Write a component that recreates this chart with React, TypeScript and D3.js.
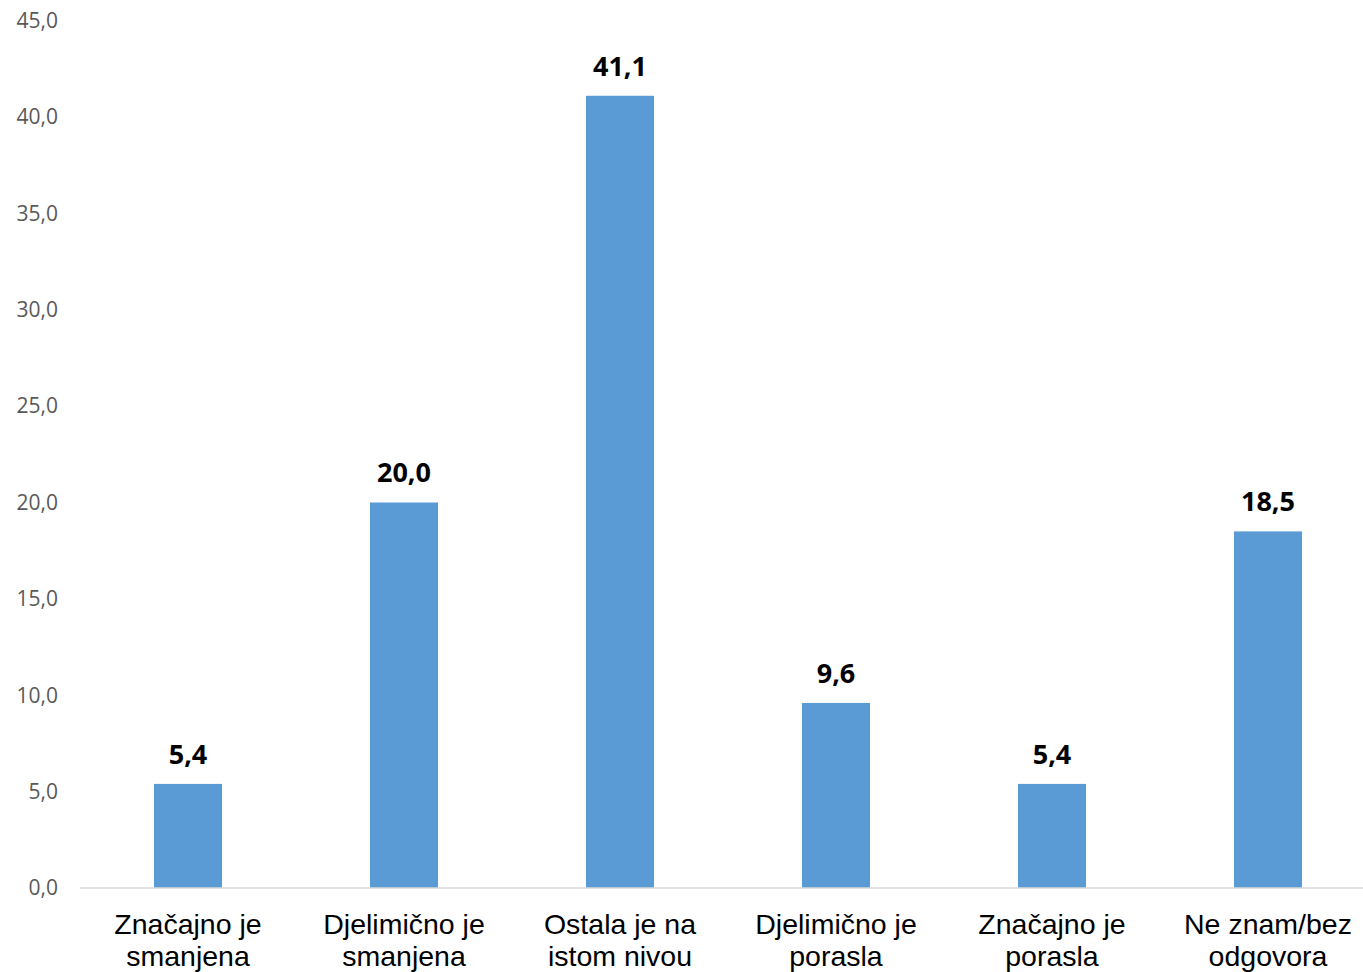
import React from "react";
import * as d3 from "d3";

const categories: string[][] = [
  ["Značajno je", "smanjena"],
  ["Djelimično je", "smanjena"],
  ["Ostala je na", "istom nivou"],
  ["Djelimično je", "porasla"],
  ["Značajno je", "porasla"],
  ["Ne znam/bez", "odgovora"],
];
const values: number[] = [5.4, 20.0, 41.1, 9.6, 5.4, 18.5];
const yTicks: number[] = [0, 5, 10, 15, 20, 25, 30, 35, 40, 45];

const fmt = (v: number) => v.toFixed(1).replace(".", ",");

export default function App() {
  const W = 1363;
  const H = 972;
  const left = 80;
  const right = 1376;
  const top = 20.6;
  const bottom = 888;
  const x = d3
    .scaleBand<number>()
    .domain(values.map((_, i) => i))
    .range([left, right])
    .paddingInner(0.685)
    .paddingOuter(0.3425);
  const y = d3.scaleLinear().domain([0, 45]).range([bottom, top]);

  return (
    <svg
      width={W}
      height={H}
      style={{ position: "absolute", left: 0, top: 0, background: "#fff" }}
    >
      {yTicks.map((t) => (
        <text
          key={t}
          x={58}
          y={y(t)}
          dy="0.35em"
          textAnchor="end"
          fontFamily="'Open Sans', 'Noto Sans', sans-serif"
          fontSize={21}
          fill="#595959"
        >
          {fmt(t)}
        </text>
      ))}
      {values.map((v, i) => (
        <g key={i}>
          <rect
            x={x(i)!}
            y={y(v)}
            width={x.bandwidth()}
            height={y(0) - y(v)}
            fill="#5b9bd5"
          />
          <text
            x={x(i)! + x.bandwidth() / 2}
            y={y(v) - 20}
            textAnchor="middle"
            fontFamily="'Open Sans', 'Noto Sans', sans-serif"
            fontWeight="bold"
            fontSize={27}
            fill="#000"
          >
            {fmt(v)}
          </text>
          {categories[i].map((line, j) => (
            <text
              key={j}
              x={x(i)! + x.bandwidth() / 2}
              y={934 + j * 32}
              textAnchor="middle"
              fontFamily="'Liberation Sans', Arial, sans-serif"
              fontSize={28.5}
              fill="#000"
            >
              {line}
            </text>
          ))}
        </g>
      ))}
      <line x1={left} x2={W} y1={bottom} y2={bottom} stroke="#d9d9d9" strokeWidth={1.5} />
    </svg>
  );
}
